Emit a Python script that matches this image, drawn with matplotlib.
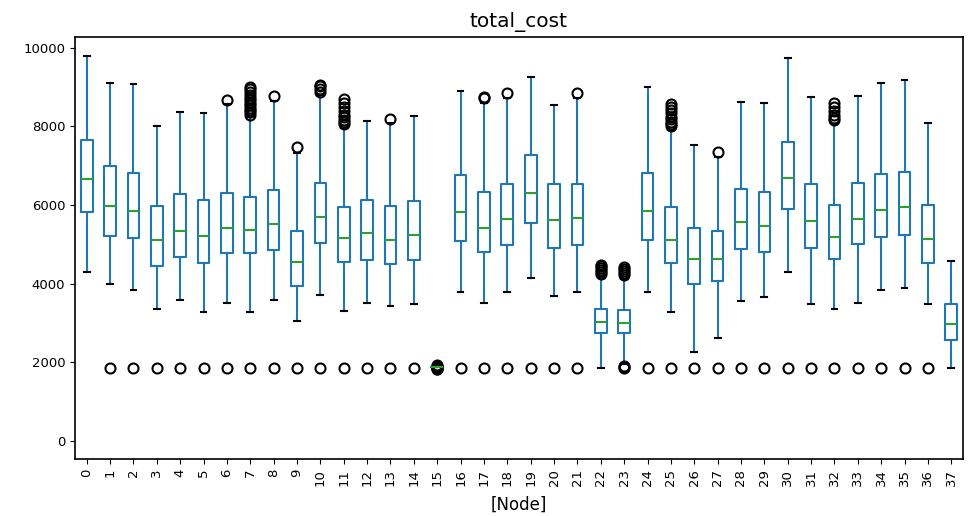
import matplotlib
matplotlib.use("Agg")
import matplotlib.pyplot as plt

nodes = list(range(38))
whislo = [4300, 3980, 3845, 3360, 3580, 3270, 3520, 3270, 3580, 3040,
          3720, 3300, 3520, 3430, 3490, 1870, 3780, 3520, 3780, 4140,
          3690, 3780, 1847, 1960, 3780, 3270, 2260, 2610, 3560, 3660,
          4290, 3490, 3360, 3520, 3845, 3880, 3490, 1847]
q1 = [5830, 5200, 5150, 4440, 4670, 4520, 4785, 4777, 4853, 3946,
      5040, 4556, 4600, 4490, 4600, 1870, 5090, 4810, 4980, 5530,
      4896, 4980, 2752, 2752, 5107, 4523, 3989, 4073, 4879, 4810,
      5888, 4913, 4625, 4998, 5192, 5234, 4532, 2566]
med = [6657, 5980, 5852, 5107, 5344, 5209, 5405, 5370, 5506, 4548,
       5692, 5150, 5277, 5116, 5234, 1870, 5818, 5420, 5649, 6310,
       5624, 5658, 3024, 2991, 5852, 5107, 4625, 4625, 5565, 5455,
       6691, 5599, 5192, 5649, 5878, 5946, 5141, 2982]
q3 = [7666, 6980, 6818, 5971, 6268, 6132, 6302, 6192, 6386, 5328,
      6556, 5938, 6132, 5971, 6107, 1870, 6751, 6327, 6531, 7267,
      6531, 6531, 3347, 3321, 6818, 5938, 5420, 5336, 6412, 6319,
      7606, 6522, 5997, 6556, 6784, 6843, 6006, 3490]
whishi = [9783, 9105, 9071, 8004, 8368, 8334, 8560, 8250, 8650, 7330,
          8800, 7950, 8139, 8080, 8266, 1870, 8893, 8600, 8730, 9267,
          8555, 8720, 4160, 4120, 9003, 7900, 7521, 7220, 8622, 8589,
          9750, 8749, 8050, 8784, 9105, 9173, 8096, 4582]
fliers = [
    [],
    [1847], [1847], [1847], [1847], [1847],
    [1847, 8680],
    [1847, 8300, 8360, 8420, 8480, 8540, 8600, 8660, 8720, 8800, 8880, 8950, 9000],
    [1847, 8780],
    [1847, 7470],
    [1847, 8880, 8950, 9020, 9060],
    [1847, 8050, 8110, 8170, 8230, 8300, 8400, 8500, 8600, 8700],
    [1847],
    [1847, 8200],
    [1847],
    [1820, 1840, 1855, 1885, 1900, 1920],
    [1847],
    [1847, 8720, 8760],
    [1847, 8850],
    [1847], [1847],
    [1847, 8850],
    [4250, 4300, 4350, 4400, 4450, 4480],
    [1850, 1880, 1910, 4220, 4270, 4320, 4370, 4420],
    [1847],
    [1847, 8000, 8060, 8120, 8180, 8250, 8330, 8420, 8500, 8560],
    [1847],
    [1847, 7360],
    [1847], [1847], [1847], [1847],
    [1847, 8150, 8220, 8300, 8400, 8500, 8600],
    [1847], [1847], [1847], [1847],
    [],
]

stats = []
for i in range(len(nodes)):
    stats.append(dict(label=str(nodes[i]), whislo=whislo[i], q1=q1[i], med=med[i],
                      q3=q3[i], whishi=whishi[i], fliers=fliers[i]))

fig = plt.figure(figsize=(9.69, 5.16), dpi=100)
ax = fig.add_axes([0.0774, 0.1105, 0.9164, 0.8175])

blue = '#1f77b4'
lw = 1.5
ax.bxp(stats, positions=[n + 1 for n in nodes], widths=0.5,
       boxprops=dict(color=blue, linewidth=lw),
       whiskerprops=dict(color=blue, linewidth=lw),
       capprops=dict(color='black', linewidth=lw),
       medianprops=dict(color='#2ca02c', linewidth=lw),
       flierprops=dict(marker='o', markerfacecolor='none', markeredgecolor='black',
                       markersize=7.2, markeredgewidth=1.5))

ax.set_xlim(0.5, 38.5)
ax.set_ylim(-460, 10270)
ax.set_yticks([0, 2000, 4000, 6000, 8000, 10000])
ax.set_xticks([n + 1 for n in nodes])
ax.set_xticklabels([str(n) for n in nodes], rotation=90)
ax.tick_params(labelsize=9.5)
ax.set_title('total_cost', fontsize=14.5, pad=7.5)
ax.set_xlabel('[Node]', fontsize=12, labelpad=7)
for s in ax.spines.values():
    s.set_linewidth(1.2)

fig.savefig('out.png', dpi=100)
